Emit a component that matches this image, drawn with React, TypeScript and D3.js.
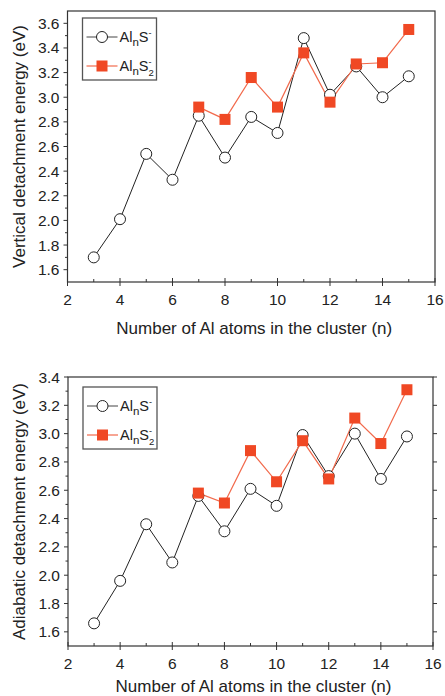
import React, { useEffect, useRef } from 'react';
import * as d3 from 'd3';

// cluster size n
const sizesS = [3, 4, 5, 6, 7, 8, 9, 10, 11, 12, 13, 14, 15];
const sizesS2 = [7, 8, 9, 10, 11, 12, 13, 14, 15];

// vertical detachment energies (eV)
const vdeS = [1.70, 2.01, 2.54, 2.33, 2.85, 2.51, 2.84, 2.71, 3.48, 3.02, 3.25, 3.00, 3.17];
const vdeS2 = [2.92, 2.82, 3.16, 2.92, 3.36, 2.96, 3.27, 3.28, 3.55];

// adiabatic detachment energies (eV)
const adeS = [1.66, 1.96, 2.36, 2.09, 2.56, 2.31, 2.61, 2.49, 2.99, 2.70, 3.00, 2.68, 2.98];
const adeS2 = [2.58, 2.51, 2.88, 2.66, 2.95, 2.68, 3.11, 2.93, 3.31];

const xTicks = [2, 4, 6, 8, 10, 12, 14, 16];
const vdeTicks = [1.6, 1.8, 2.0, 2.2, 2.4, 2.6, 2.8, 3.0, 3.2, 3.4, 3.6];
const adeTicks = [1.6, 1.8, 2.0, 2.2, 2.4, 2.6, 2.8, 3.0, 3.2, 3.4];

const FONT = 'Liberation Sans, Arial, sans-serif';
const RED = '#f04824';
const RED_LINE = '#f26a4c';

function drawPanel(svg, opts) {
  const { top, bottom, left, right, yDomain, yTicks, yTitle, s, s2, legendY, rightTicks, titleY } = opts;
  const g = svg.append('g');

  const x = d3.scaleLinear().domain([2, 16]).range([left, right]);
  const y = d3.scaleLinear().domain(yDomain).range([bottom, top]);

  // frame
  g.append('rect')
    .attr('x', left).attr('y', top)
    .attr('width', right - left).attr('height', bottom - top)
    .attr('fill', 'none').attr('stroke', '#333').attr('stroke-width', 1.2);

  // x ticks (crossing the axis)
  const xMinor = d3.range(3, 16, 2);
  xTicks.forEach(t => {
    g.append('line').attr('x1', x(t)).attr('x2', x(t))
      .attr('y1', bottom - 4).attr('y2', bottom + 4)
      .attr('stroke', '#333').attr('stroke-width', 1);
    g.append('text').attr('x', x(t)).attr('y', bottom + 23)
      .attr('text-anchor', 'middle').attr('font-family', FONT)
      .attr('font-size', 15.5).attr('fill', '#222').text(t);
  });
  xMinor.forEach(t => {
    g.append('line').attr('x1', x(t)).attr('x2', x(t))
      .attr('y1', bottom - 3).attr('y2', bottom)
      .attr('stroke', '#333').attr('stroke-width', 1);
  });

  // y ticks (outside on the left)
  yTicks.forEach(t => {
    g.append('line').attr('x1', left - 4).attr('x2', left)
      .attr('y1', y(t)).attr('y2', y(t))
      .attr('stroke', '#333').attr('stroke-width', 1);
    g.append('text').attr('x', left - 8).attr('y', y(t) + 5.5)
      .attr('text-anchor', 'end').attr('font-family', FONT)
      .attr('font-size', 15.5).attr('fill', '#222').text(d3.format('.1f')(t));
    if (rightTicks) {
      g.append('line').attr('x1', right).attr('x2', right + 4)
        .attr('y1', y(t)).attr('y2', y(t))
        .attr('stroke', '#333').attr('stroke-width', 1);
    }
  });
  yTicks.slice(0, -1).forEach(t => {
    const m = t + 0.1;
    g.append('line').attr('x1', left - 2.5).attr('x2', left)
      .attr('y1', y(m)).attr('y2', y(m))
      .attr('stroke', '#333').attr('stroke-width', 1);
  });

  // axis titles
  g.append('text')
    .attr('x', (left + right) / 2 + 3).attr('y', titleY)
    .attr('text-anchor', 'middle').attr('font-family', FONT)
    .attr('font-size', 17).attr('fill', '#222')
    .text('Number of Al atoms in the cluster (n)');
  g.append('text')
    .attr('transform', `translate(25, ${(top + bottom) / 2}) rotate(-90)`)
    .attr('text-anchor', 'middle').attr('font-family', FONT)
    .attr('font-size', 17).attr('fill', '#222')
    .text(yTitle);

  const line = d3.line().x(d => x(d[0])).y(d => y(d[1]));
  const ptsS = sizesS.map((n, i) => [n, s[i]]);
  const ptsS2 = sizesS2.map((n, i) => [n, s2[i]]);

  g.append('path').attr('d', line(ptsS)).attr('fill', 'none')
    .attr('stroke', '#222').attr('stroke-width', 1);
  g.append('path').attr('d', line(ptsS2)).attr('fill', 'none')
    .attr('stroke', RED_LINE).attr('stroke-width', 1.2);

  g.selectAll('.circ').data(ptsS).enter().append('circle')
    .attr('cx', d => x(d[0])).attr('cy', d => y(d[1])).attr('r', 5.5)
    .attr('fill', '#fff').attr('stroke', '#222').attr('stroke-width', 1);
  g.selectAll('.sq').data(ptsS2).enter().append('rect')
    .attr('x', d => x(d[0]) - 5.5).attr('y', d => y(d[1]) - 5.5)
    .attr('width', 11).attr('height', 11).attr('fill', RED);

  // legend
  const lx = left + 15;
  const leg = g.append('g').attr('transform', `translate(${lx}, ${legendY})`);
  leg.append('rect').attr('x', 0).attr('y', 0).attr('width', 74).attr('height', 62)
    .attr('fill', '#fff').attr('stroke', '#555').attr('stroke-width', 1.3);
  leg.append('line').attr('x1', 4).attr('x2', 35).attr('y1', 19).attr('y2', 19)
    .attr('stroke', '#444').attr('stroke-width', 1);
  leg.append('circle').attr('cx', 19.5).attr('cy', 19).attr('r', 5.5)
    .attr('fill', '#fff').attr('stroke', '#222');
  leg.append('line').attr('x1', 4).attr('x2', 35).attr('y1', 48).attr('y2', 48)
    .attr('stroke', RED_LINE).attr('stroke-width', 1.2);
  leg.append('rect').attr('x', 14).attr('y', 42.5).attr('width', 11).attr('height', 11)
    .attr('fill', RED);

  const t1 = leg.append('text').attr('x', 37).attr('y', 24)
    .attr('font-family', FONT).attr('font-size', 14.5).attr('fill', '#222');
  t1.append('tspan').text('Al');
  t1.append('tspan').attr('dy', 4).attr('font-size', 11.5).text('n');
  t1.append('tspan').attr('dy', -4).text('S');
  t1.append('tspan').attr('dy', -6).attr('font-size', 9).text('-');

  const t2 = leg.append('text').attr('x', 37).attr('y', 53)
    .attr('font-family', FONT).attr('font-size', 14.5).attr('fill', '#222');
  t2.append('tspan').text('Al');
  t2.append('tspan').attr('dy', 4).attr('font-size', 11.5).text('n');
  t2.append('tspan').attr('dy', -4).text('S');
  t2.append('tspan').attr('dy', -6).attr('font-size', 9).text('-');
  t2.append('tspan').attr('x', 66).attr('dy', 11).attr('font-size', 9.5).text('2');
}

export default function App() {
  const ref = useRef(null);

  useEffect(() => {
    const svg = d3.select(ref.current);
    svg.selectAll('*').remove();

    drawPanel(svg, {
      top: 11, bottom: 282, left: 67.5, right: 435,
      yDomain: [1.5, 3.7], yTicks: vdeTicks,
      yTitle: 'Vertical detachment energy (eV)',
      s: vdeS, s2: vdeS2, legendY: 18, rightTicks: false, titleY: 334,
    });
    drawPanel(svg, {
      top: 377, bottom: 646, left: 68, right: 433,
      yDomain: [1.5, 3.4], yTicks: adeTicks,
      yTitle: 'Adiabatic detachment energy (eV)',
      s: adeS, s2: adeS2, legendY: 387, rightTicks: true, titleY: 692,
    });
  }, []);

  return (
    <svg ref={ref} width={445} height={696}
      style={{ position: 'absolute', left: 0, top: 0, background: '#fff' }} />
  );
}
